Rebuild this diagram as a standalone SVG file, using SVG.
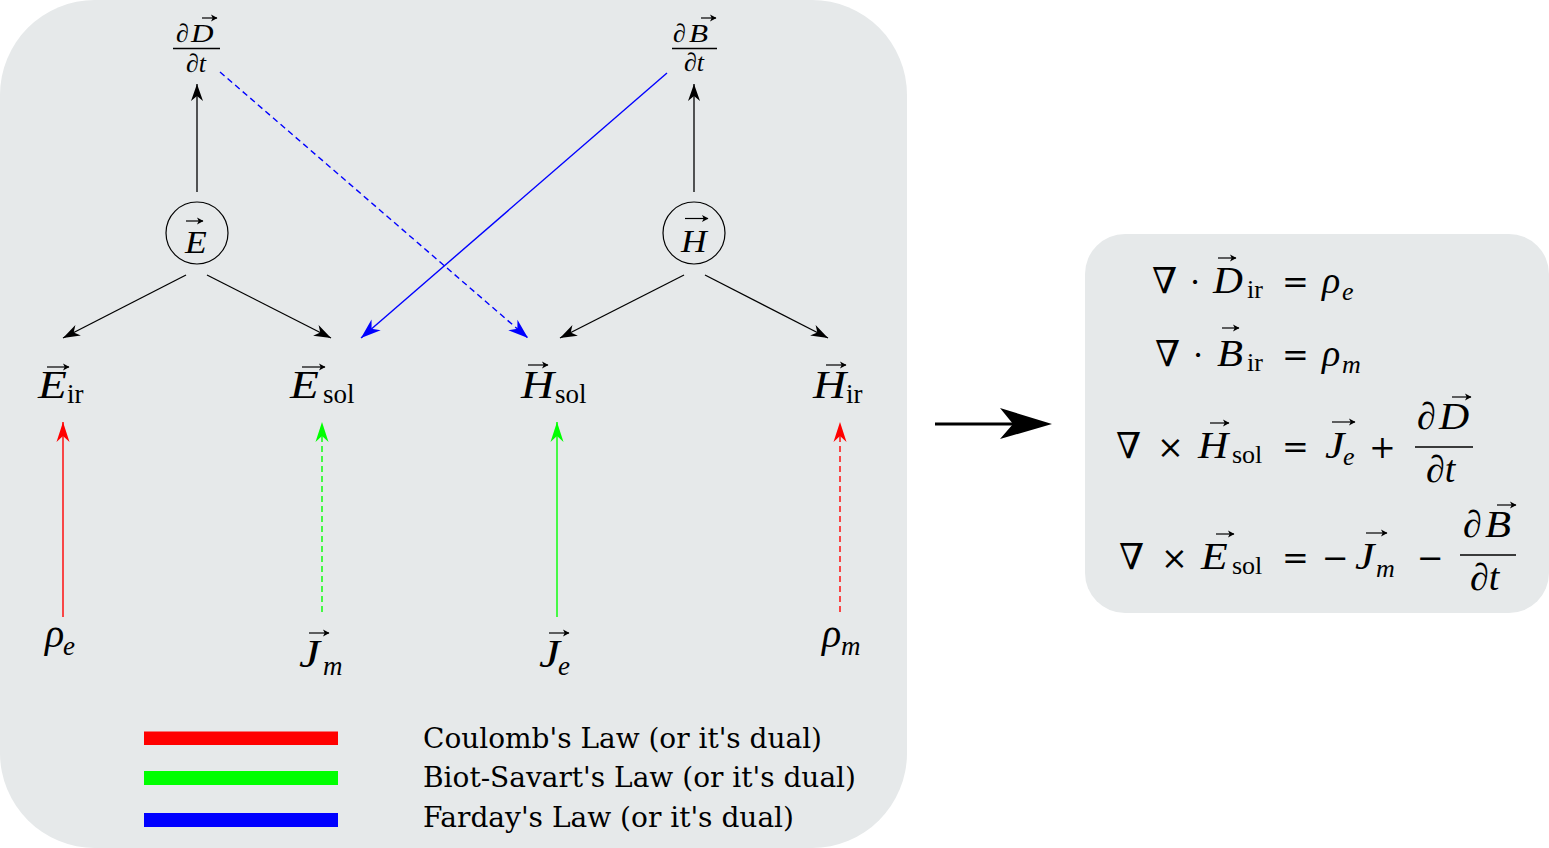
<svg xmlns="http://www.w3.org/2000/svg" width="1549" height="848" viewBox="0 0 1549 848">
<style>
.mi{font-family:"Liberation Serif","DejaVu Serif",serif;font-style:italic;fill:#000}
.mr{font-family:"Liberation Serif","DejaVu Serif",serif;font-style:normal;fill:#000}
.op{font-family:"DejaVu Serif","Liberation Serif",serif;font-style:normal;fill:#000}
.leg{font-family:"DejaVu Serif","Liberation Serif",serif;font-size:28px;font-stretch:condensed;fill:#000}
.blk{stroke:#000;stroke-width:1.3;fill:none}
.red{stroke:#ff0000;stroke-width:1.4;fill:none}
.grn{stroke:#00ff00;stroke-width:1.4;fill:none}
.blu{stroke:#0000ff;stroke-width:1.4;fill:none}
.dash{stroke-dasharray:6 4}
.va{stroke:#000;stroke-width:1.2;fill:none;marker-end:url(#hv)}
.bar{stroke:#000;stroke-width:1.4}
</style>
<defs>
<marker id="hk" viewBox="-22 -9 24 18" refX="0" refY="0" markerWidth="24" markerHeight="18" markerUnits="userSpaceOnUse" orient="auto"><path d="M0,0 L-17,-6 L-12,0 L-17,6 Z" fill="#000"/></marker>
<marker id="hr" viewBox="-22 -9 24 18" refX="0" refY="0" markerWidth="24" markerHeight="18" markerUnits="userSpaceOnUse" orient="auto"><path d="M0,0 L-20,-6.5 L-14,0 L-20,6.5 Z" fill="#ff0000"/></marker>
<marker id="hg" viewBox="-22 -9 24 18" refX="0" refY="0" markerWidth="24" markerHeight="18" markerUnits="userSpaceOnUse" orient="auto"><path d="M0,0 L-20,-6.5 L-14,0 L-20,6.5 Z" fill="#00ff00"/></marker>
<marker id="hb" viewBox="-22 -9 24 18" refX="0" refY="0" markerWidth="24" markerHeight="18" markerUnits="userSpaceOnUse" orient="auto"><path d="M0,0 L-20,-7 L-14,0 L-20,7 Z" fill="#0000ff"/></marker>
<marker id="hv" viewBox="-8 -5 9 10" refX="0" refY="0" markerWidth="9" markerHeight="10" markerUnits="userSpaceOnUse" orient="auto"><path d="M0.5,0 L-6,-3.6 L-4.3,0 L-6,3.6 Z" fill="#000"/></marker>
</defs>

<rect id="left-panel" x="0" y="0" width="907" height="848" rx="95" ry="95" fill="#e6e9ea"/>
<rect id="right-panel" x="1085" y="234" width="464" height="379" rx="40" ry="40" fill="#e6e9ea"/>

<g id="connectors">
<line class="blk" x1="197" y1="192" x2="197" y2="84" marker-end="url(#hk)"/>
<line class="blk" x1="694" y1="192" x2="694" y2="84" marker-end="url(#hk)"/>
<line class="blk" x1="186" y1="275" x2="63" y2="338" marker-end="url(#hk)"/>
<line class="blk" x1="207" y1="275" x2="331" y2="338" marker-end="url(#hk)"/>
<line class="blk" x1="684" y1="275" x2="560" y2="338" marker-end="url(#hk)"/>
<line class="blk" x1="705" y1="275" x2="828" y2="338" marker-end="url(#hk)"/>
<line class="blu" x1="667" y1="73" x2="361" y2="338" marker-end="url(#hb)"/>
<line class="blu dash" x1="220" y1="72" x2="528" y2="338" marker-end="url(#hb)"/>
<line class="red" x1="63" y1="617" x2="63" y2="422" marker-end="url(#hr)"/>
<line class="grn dash" x1="322" y1="612" x2="322" y2="422" marker-end="url(#hg)"/>
<line class="grn" x1="557" y1="617" x2="557" y2="422" marker-end="url(#hg)"/>
<line class="red dash" x1="840" y1="612" x2="840" y2="422" marker-end="url(#hr)"/>
<g id="big-arrow">
<line x1="935" y1="424" x2="1014" y2="424" stroke="#000" stroke-width="3"/>
<path d="M1052,424 L1000,408 L1013,424 L1000,439 Z" fill="#000"/>
</g>
</g>

<g id="dDdt">
<text class="mr" font-size="26" x="176" y="42">∂</text>
<text class="mi" font-size="26" transform="translate(191,42) scale(1.2,1)">D</text>
<path class="va" d="M202,18 H217"/>
<line class="bar" x1="173" y1="48.5" x2="220" y2="48.5"/>
<text class="mr" font-size="26" x="186" y="72">∂<tspan class="mi">t</tspan></text>
</g>

<g id="dBdt">
<text class="mr" font-size="26" x="673" y="42">∂</text>
<text class="mi" font-size="26" transform="translate(689,42) scale(1.2,1)">B</text>
<path class="va" d="M701,18 H716"/>
<line class="bar" x1="672" y1="48.5" x2="717" y2="48.5"/>
<text class="mr" font-size="26" x="684" y="71">∂<tspan class="mi">t</tspan></text>
</g>

<g id="E">
<circle cx="197" cy="233" r="31" fill="none" stroke="#000" stroke-width="1.2"/>
<text class="mi" font-size="31" transform="translate(185,253) scale(1.15,1)">E</text>
<path class="va" d="M186,221 H203"/>
</g>

<g id="H">
<circle cx="694" cy="233" r="31" fill="none" stroke="#000" stroke-width="1.2"/>
<text class="mi" font-size="31" transform="translate(681,252) scale(1.15,1)">H</text>
<path class="va" d="M685,218.5 H708"/>
</g>

<g id="E_ir">
<text class="mi" font-size="41" transform="translate(38,398) scale(1.15,1)">E</text>
<path class="va" d="M47,367 H69"/>
<text class="mr" font-size="27" x="67" y="403">ir</text>
</g>

<g id="E_sol">
<text class="mi" font-size="41" transform="translate(290,398) scale(1.15,1)">E</text>
<path class="va" d="M302,367 H325"/>
<text class="mr" font-size="27" x="323" y="403">sol</text>
</g>

<g id="H_sol">
<text class="mi" font-size="41" transform="translate(521,398) scale(1.12,1)">H</text>
<path class="va" d="M528,365 H548"/>
<text class="mr" font-size="27" x="555" y="403">sol</text>
</g>

<g id="H_ir">
<text class="mi" font-size="41" transform="translate(813,398) scale(1.12,1)">H</text>
<path class="va" d="M826,365 H846"/>
<text class="mr" font-size="27" x="846" y="403">ir</text>
</g>

<g id="rho_e">
<text class="mi" font-size="40" x="45" y="647">ρ</text>
<text class="mi" font-size="27" x="63" y="655">e</text>
</g>

<g id="J_m">
<text class="mi" font-size="41" transform="translate(299,667) scale(1.15,1)">J</text>
<path class="va" d="M309,633 H329"/>
<text class="mi" font-size="27" x="323" y="675">m</text>
</g>

<g id="J_e">
<text class="mi" font-size="41" transform="translate(539,667) scale(1.15,1)">J</text>
<path class="va" d="M549,633 H569"/>
<text class="mi" font-size="27" x="558" y="675">e</text>
</g>

<g id="rho_m">
<text class="mi" font-size="40" x="822" y="647">ρ</text>
<text class="mi" font-size="27" x="841" y="655">m</text>
</g>

<g id="legend">
<rect x="144" y="731.5" width="194" height="13.5" fill="#ff0000"/>
<rect x="144" y="771" width="194" height="14" fill="#00ff00"/>
<rect x="144" y="813" width="194" height="14" fill="#0000ff"/>
<text class="leg" x="423" y="748" textLength="399" lengthAdjust="spacingAndGlyphs">Coulomb's Law (or it's dual)</text>
<text class="leg" x="423" y="787" textLength="433" lengthAdjust="spacingAndGlyphs">Biot-Savart's Law (or it's dual)</text>
<text class="leg" x="423" y="827" textLength="371" lengthAdjust="spacingAndGlyphs">Farday's Law (or it's dual)</text>
</g>

<g id="equations">
<g id="eq1">
<text class="op" font-size="36" x="1152" y="293">∇</text>
<text class="op" font-size="32" x="1190" y="293">·</text>
<text class="mi" font-size="37" transform="translate(1213,293) scale(1.12,1)">D</text>
<path class="va" d="M1218,258 H1236"/>
<text class="mr" font-size="26" x="1247" y="298">ir</text>
<text class="op" font-size="32" x="1282" y="293">=</text>
<text class="mi" font-size="38" x="1322" y="293">ρ</text>
<text class="mi" font-size="26" x="1342" y="300">e</text>
</g>
<g id="eq2">
<text class="op" font-size="36" x="1155" y="366">∇</text>
<text class="op" font-size="32" x="1193" y="366">·</text>
<text class="mi" font-size="37" transform="translate(1217,366) scale(1.15,1)">B</text>
<path class="va" d="M1222,328 H1239"/>
<text class="mr" font-size="26" x="1247" y="371">ir</text>
<text class="op" font-size="32" x="1282" y="366">=</text>
<text class="mi" font-size="38" x="1322" y="366">ρ</text>
<text class="mi" font-size="26" x="1342" y="373">m</text>
</g>
<g id="eq3">
<text class="op" font-size="36" x="1116" y="458">∇</text>
<text class="op" font-size="32" x="1157" y="458">×</text>
<text class="mi" font-size="38" transform="translate(1198,458) scale(1.1,1)">H</text>
<path class="va" d="M1210,423 H1229"/>
<text class="mr" font-size="26" x="1232" y="463">sol</text>
<text class="op" font-size="32" x="1282" y="458">=</text>
<text class="mi" font-size="38" transform="translate(1325,458) scale(1.15,1)">J</text>
<path class="va" d="M1332,422 H1355"/>
<text class="mi" font-size="26" x="1343" y="465">e</text>
<text class="op" font-size="32" x="1369" y="458">+</text>
<text class="mr" font-size="38" x="1417" y="429">∂</text>
<text class="mi" font-size="38" transform="translate(1439,429) scale(1.1,1)">D</text>
<path class="va" d="M1452,397 H1471"/>
<line class="bar" x1="1415" y1="447" x2="1473" y2="447"/>
<text class="mr" font-size="38" x="1426" y="482">∂<tspan class="mi">t</tspan></text>
</g>
<g id="eq4">
<text class="op" font-size="36" x="1119" y="569">∇</text>
<text class="op" font-size="32" x="1161" y="569">×</text>
<text class="mi" font-size="38" transform="translate(1201,569) scale(1.15,1)">E</text>
<path class="va" d="M1216,534 H1234"/>
<text class="mr" font-size="26" x="1232" y="574">sol</text>
<text class="op" font-size="32" x="1282" y="569">=</text>
<text class="op" font-size="32" x="1322" y="569">−</text>
<text class="mi" font-size="38" transform="translate(1355,569) scale(1.15,1)">J</text>
<path class="va" d="M1366,533 H1387"/>
<text class="mi" font-size="26" x="1376" y="577">m</text>
<text class="op" font-size="32" x="1417" y="569">−</text>
<text class="mr" font-size="38" x="1463" y="537">∂</text>
<text class="mi" font-size="38" transform="translate(1485,537) scale(1.12,1)">B</text>
<path class="va" d="M1497,505 H1516"/>
<line class="bar" x1="1460" y1="555" x2="1516" y2="555"/>
<text class="mr" font-size="38" x="1470" y="590">∂<tspan class="mi">t</tspan></text>
</g>
</g>
</svg>
